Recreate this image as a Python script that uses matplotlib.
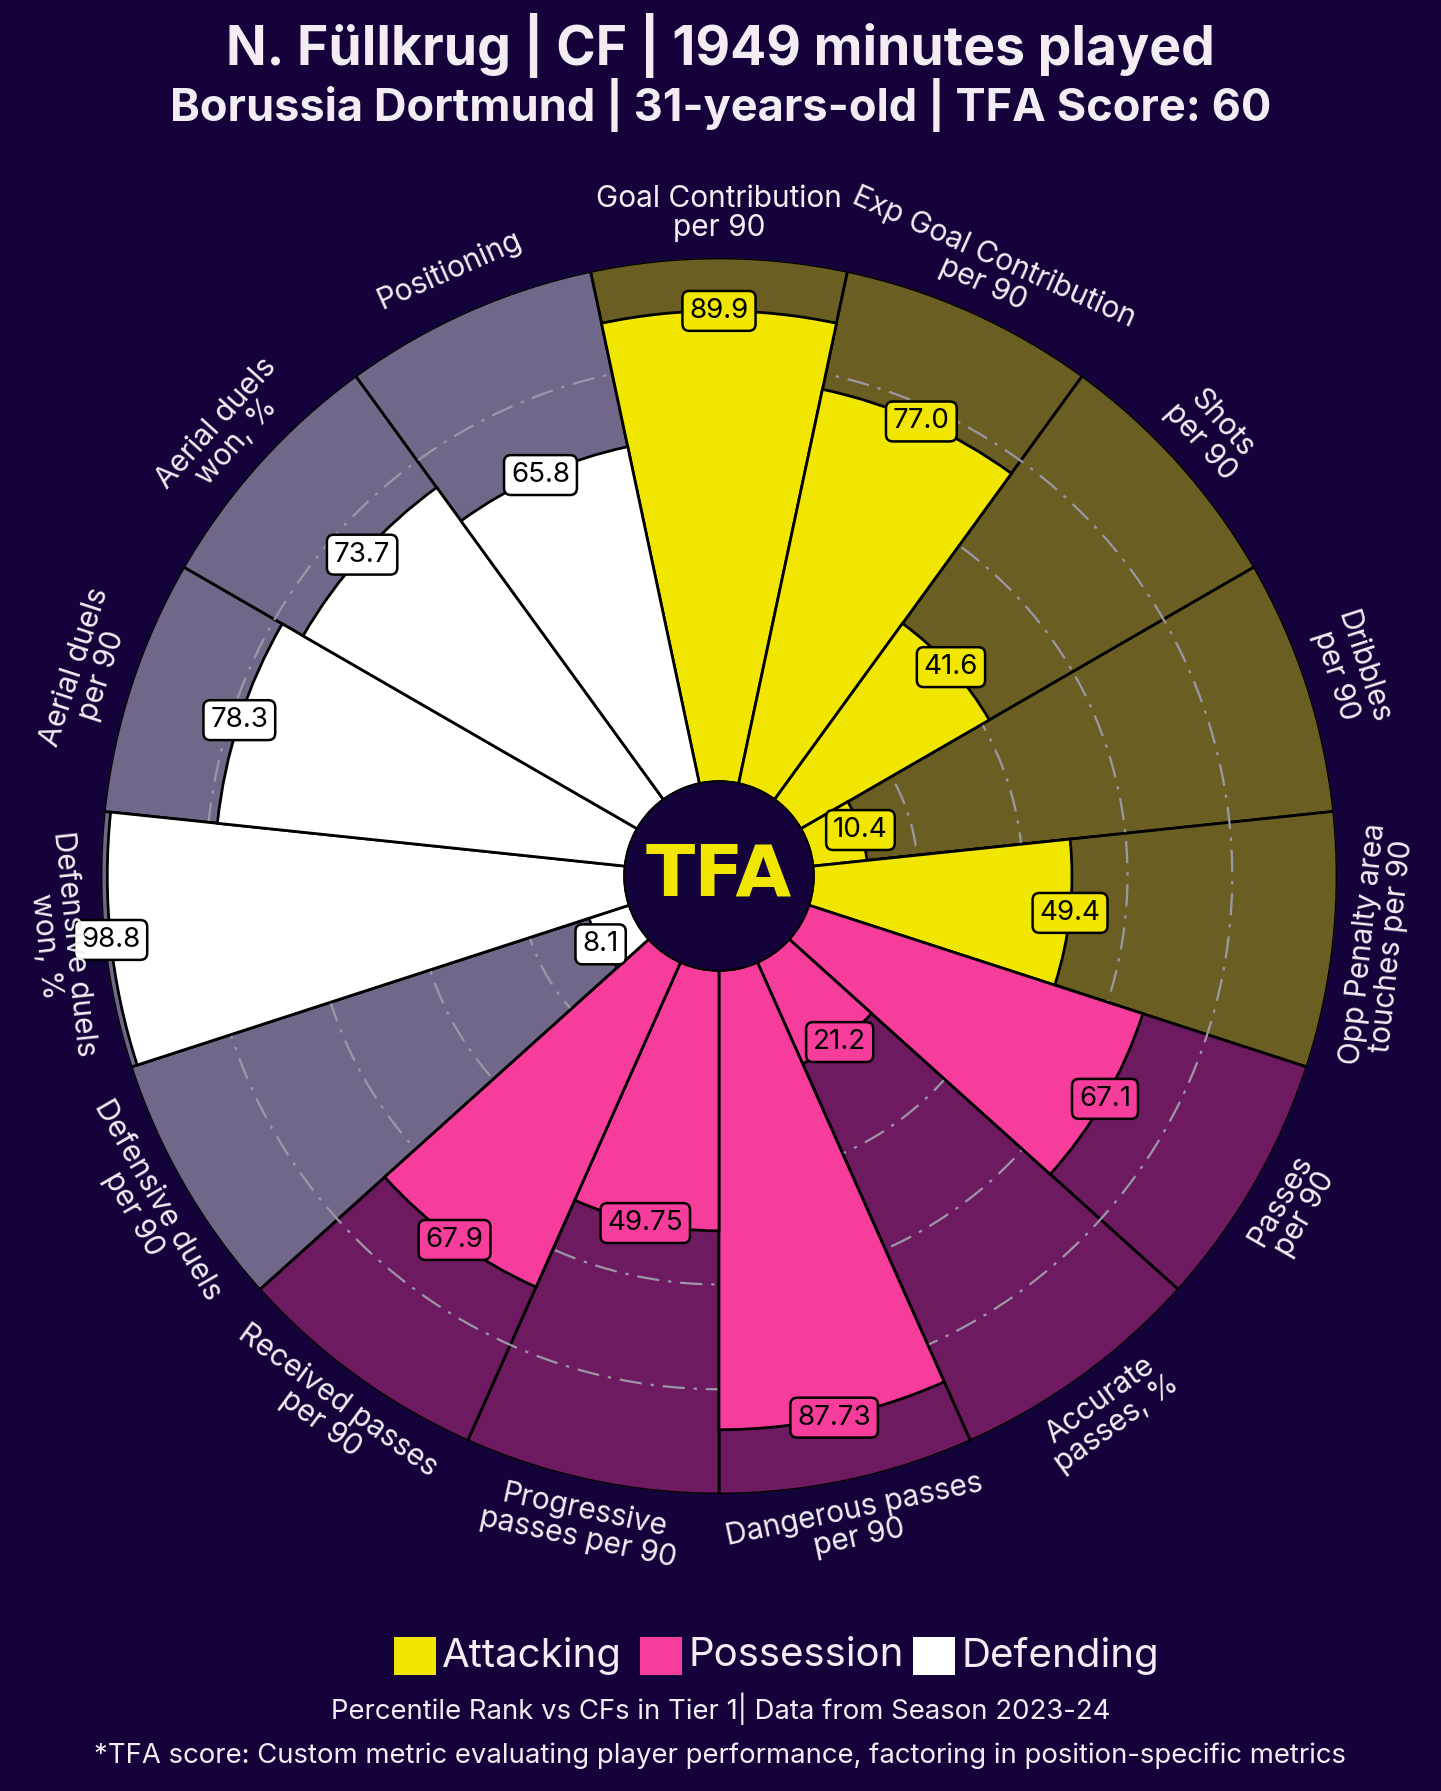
import numpy as np
import matplotlib
matplotlib.use("Agg")
import matplotlib.pyplot as plt
from matplotlib.patches import Circle, Rectangle
from matplotlib.colors import to_rgb

# ---- data ----
params = ["Goal Contribution\nper 90", "Exp Goal Contribution\nper 90", "Shots\nper 90",
          "Dribbles\nper 90", "Opp Penalty area\ntouches per 90", "Passes\nper 90",
          "Accurate\npasses, %", "Dangerous passes\nper 90", "Progressive\npasses per 90",
          "Received passes\nper 90", "Defensive duels\nper 90", "Defensive duels\nwon, %",
          "Aerial duels\nper 90", "Aerial duels\nwon, %", "Positioning"]
values = [89.9, 77.0, 41.6, 10.4, 49.4, 67.1, 21.2, 87.73, 49.75, 67.9,
          8.1, 98.8, 78.3, 73.7, 65.8]
value_labels = ["89.9", "77.0", "41.6", "10.4", "49.4", "67.1", "21.2", "87.73", "49.75",
                "67.9", "8.1", "98.8", "78.3", "73.7", "65.8"]
groups = ["Attacking"] * 5 + ["Possession"] * 5 + ["Defending"] * 5
legend_names = ["Attacking", "Possession", "Defending"]

title = "N. Füllkrug | CF | 1949 minutes played"
subtitle = "Borussia Dortmund | 31-years-old | TFA Score: 60"
footer1 = "Percentile Rank vs CFs in Tier 1| Data from Season 2023-24"
footer2 = "*TFA score: Custom metric evaluating player performance, factoring in position-specific metrics"

# ---- style ----
BG = "#13033a"
TXT = "#f3ecf3"
group_colors = {"Attacking": "#f0e600", "Possession": "#f63d9b", "Defending": "#ffffff"}
FONT = ["Inter", "DejaVu Sans"]
plt.rcParams["font.family"] = FONT


def blend(c, alpha=0.4, bg=BG):
    c = np.array(to_rgb(c))
    b = np.array(to_rgb(bg))
    return tuple(alpha * c + (1 - alpha) * b)


W, H = 1441, 1791
fig = plt.figure(figsize=(W / 100, H / 100), dpi=100, facecolor=BG)

cx, cy, R = 719, 876, 618
ax = fig.add_axes([(cx - R) / W, (H - cy - R) / H, 2 * R / W, 2 * R / H], projection="polar")
ax.set_facecolor("none")
ax.set_theta_zero_location("N")
ax.set_theta_direction(-1)
INNER = 18
ax.set_rorigin(-INNER)
ax.set_ylim(0, 100)
ax.grid(False)
ax.set_xticks([])
ax.set_yticks([])
ax.spines["polar"].set_visible(False)

n = len(params)
step = 2 * np.pi / n
thetas = np.arange(n) * step
colors = [group_colors[g] for g in groups]

# background slices
ax.bar(thetas, [100] * n, width=step, bottom=0, color=[blend(c) for c in colors],
       edgecolor="black", linewidth=2.0, zorder=1)
# grid circles
tt = np.linspace(0, 2 * np.pi, 500)
for r in [20, 40, 60, 80]:
    ax.plot(tt, [r] * len(tt), color="#9c97a6", lw=1.6, ls=(0, (10, 4, 1.5, 4)), zorder=2)
# value slices
ax.bar(thetas, values, width=step, bottom=0, color=colors,
       edgecolor="black", linewidth=2.0, zorder=3)

# value labels
for th, v, lab, c in zip(thetas, values, value_labels, colors):
    ax.text(th, v, lab, ha="center", va="center", fontsize=20, color="black", zorder=6,
            bbox=dict(boxstyle="round,pad=0.25", fc=c, ec="black", lw=1.8))

# param labels
for th, p in zip(thetas, params):
    ang = 90 - np.degrees(th)
    a = (ang + 180) % 360 - 180
    rot = a - 90 if 0 <= a <= 180 else a + 90
    ax.text(th, 108.5, p, ha="center", va="center", rotation=rot, rotation_mode="anchor",
            fontsize=21.5, color=TXT, linespacing=1.02, zorder=6, clip_on=False)

# center circle
ax.add_patch(Circle((0.5, 0.5), 0.5 * INNER / (100 + INNER), transform=ax.transAxes,
                    facecolor=BG, edgecolor="black", lw=2.2, zorder=5))
ax.text(0.5, 0.5, "TFA", transform=ax.transAxes, ha="center", va="center",
        fontsize=52, fontweight="heavy", color="#f0e600", zorder=7,
        family=["DejaVu Sans"])

# titles
fig.text(0.5, 1 - 46 / H, title, ha="center", va="center", fontsize=38.5,
         fontweight="bold", color=TXT)
fig.text(0.5, 1 - 105 / H, subtitle, ha="center", va="center", fontsize=32.5,
         fontweight="bold", color=TXT)

# legend
leg_y = 1656
sq_x = [394, 640, 913]
for name, x in zip(legend_names, sq_x):
    fig.patches.append(Rectangle((x / W, 1 - (leg_y + 19) / H), 42 / W, 38 / H,
                                 transform=fig.transFigure, facecolor=group_colors[name],
                                 edgecolor="none"))
    fig.text((x + 48) / W, 1 - leg_y / H, name, ha="left", va="center", fontsize=29, color=TXT)

fig.text(0.5, 1 - 1709 / H, footer1, ha="center", va="center", fontsize=19.8, color=TXT)
fig.text(0.5, 1 - 1756 / H, footer2, ha="center", va="center", fontsize=19.8, color=TXT)

fig.savefig("out.png", dpi=100, facecolor=BG)
